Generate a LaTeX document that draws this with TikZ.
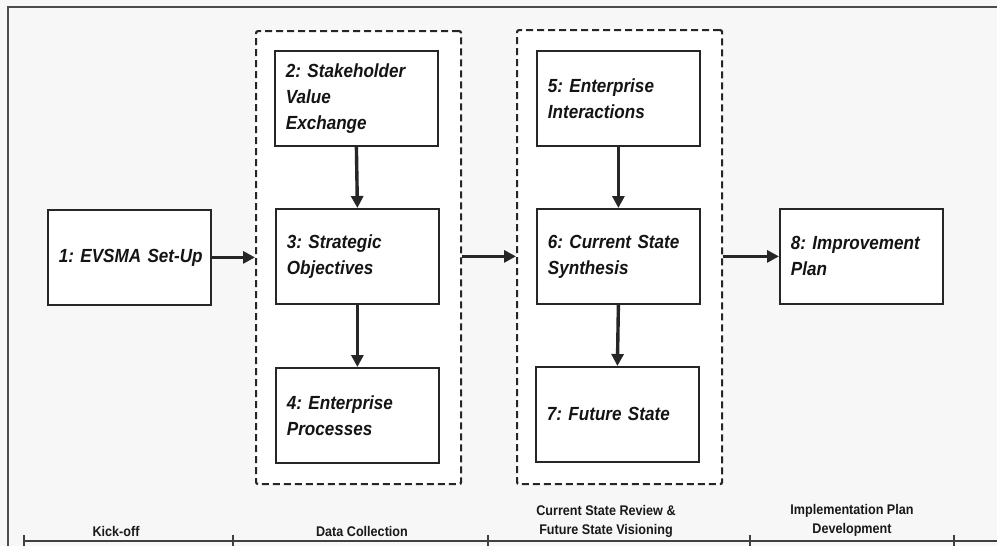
\documentclass[tikz,border=0pt]{standalone}
\usepackage{fontspec}
\setmainfont[FakeStretch=0.9]{Liberation Sans}
\usetikzlibrary{arrows.meta}
\frenchspacing

\begin{document}
\begin{tikzpicture}[x=1pt,y=-1pt,
  stage/.style={draw=black!85, line width=1.8pt, fill=white,
    minimum height=95pt, text width=141pt, inner xsep=11pt, inner ysep=0pt,
    align=left, anchor=north west, text=black!92,
    font=\fontsize{19}{26}\selectfont\bfseries\itshape},
  group/.style={draw=black!85, line width=2.2pt, fill=white,
    dash pattern=on 7pt off 4pt, rounded corners=2pt,
    anchor=north west, inner sep=0pt},
  flow/.style={draw=black!85, line width=3.4pt,
    -{Triangle[length=12pt,width=12pt]}},
  phase/.style={font=\fontsize{14}{19}\selectfont\bfseries, text=black!90,
    align=center, inner sep=0pt},
  rule/.style={draw=black!75, line width=1.5pt},
  frame/.style={draw=black!70, line width=2pt}
]
% canvas
\useasboundingbox (0,0) rectangle (997,546);
\fill[black!3] (0,0) rectangle (997,546);
\draw[frame] (8,546) -- (8,7) -- (997,7);

% dashed phase groups
\node[group, minimum width=205pt, minimum height=453pt] (g1) at (255,30) {};
\node[group, minimum width=205pt, minimum height=454pt] (g2) at (516,29) {};

% process steps
\node[stage] (b1) at (47,209) {\mbox{1: EVSMA Set-Up}};
\node[stage] (b2) at (274,50) {2: Stakeholder\\Value\\Exchange};
\node[stage] (b3) at (275,208) {3: Strategic\\Objectives};
\node[stage] (b4) at (275,367) {4: Enterprise\\Processes};
\node[stage] (b5) at (536,50) {5: Enterprise\\Interactions};
\node[stage] (b6) at (536,208) {6: Current State\\Synthesis};
\node[stage] (b7) at (535,366) {7: Future State};
\node[stage] (b8) at (779,208) {8: Improvement\\Plan};

% connectors
\draw[flow] (b1.east) -- (b1.east -| g1.west);
\draw[flow] (g1.east |- b3.east) -- (g2.west |- b3.east);
\draw[flow] (g2.east |- b8.west) -- (b8.west);
\draw[flow] (b2.south) -- (b3.north);
\draw[flow] (b3.south) -- (b4.north);
\draw[flow] (b5.south) -- (b6.north);
\draw[flow] (b6.south) -- (b7.north);

% timeline
\coordinate (t0) at (24,541);
\coordinate (t1) at (233,541);
\coordinate (t2) at (488,541);
\coordinate (t3) at (750,541);
\coordinate (t4) at (954,541);
\coordinate (tend) at (997,541);
\draw[rule] (t0) -- (tend);
\foreach \t in {t0,t1,t2,t3,t4}
  \draw[rule] ([yshift=-13pt]\t) -- ([yshift=6pt]\t);

\node[phase] (p1) at (116,531) {Kick-off};
\node[phase] (p2) at (362,531) {Data Collection};
\node[phase] (p3) at (606,521) {Current State Review \&\\Future State Visioning};
\node[phase] (p4) at (852,520) {Implementation Plan\\Development};
\end{tikzpicture}
\end{document}
